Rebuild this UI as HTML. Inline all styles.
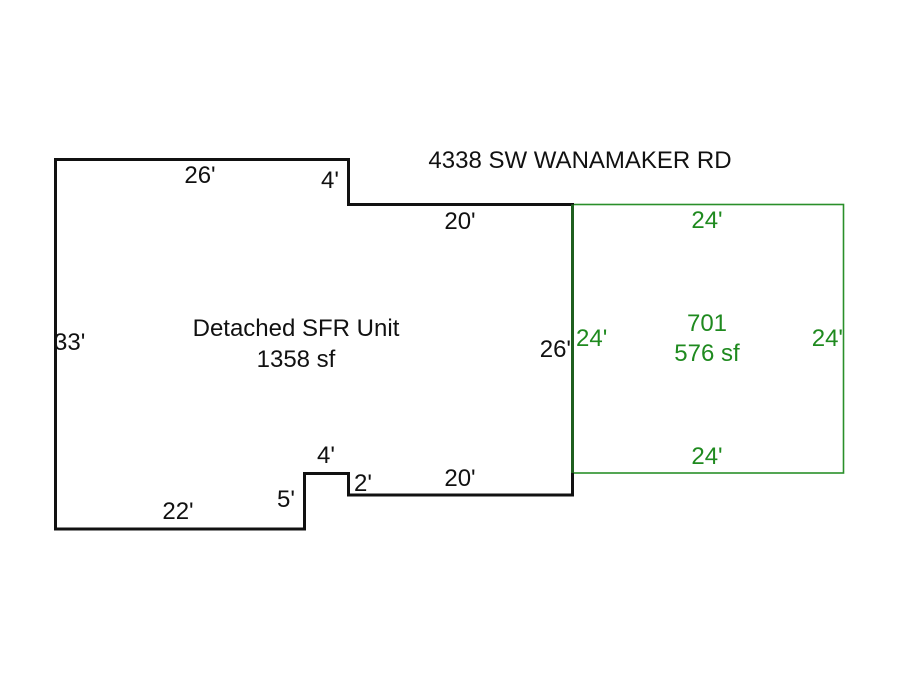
<!DOCTYPE html>
<html><head><meta charset="utf-8"><style>
html,body{margin:0;padding:0;background:#fff;}
svg{display:block;}
text{font-family:"Liberation Sans",Arial,sans-serif;font-size:24px;}
.k{fill:#111;}
.g{fill:#1f8a1f;}
</style></head><body>
<svg width="900" height="675" viewBox="0 0 900 675" xmlns="http://www.w3.org/2000/svg">
<rect width="900" height="675" fill="#fff"/>
<rect x="572.5" y="204.5" width="271" height="268.5" fill="none" stroke="#2a8f2a" stroke-width="1.6"/>
<polygon points="55.5,159.5 348.5,159.5 348.5,204.5 572.5,204.5 572.5,495 348.5,495 348.5,473.5 304.5,473.5 304.5,529 55.5,529" fill="none" stroke="#111" stroke-width="3"/>
<line x1="572.5" y1="204.5" x2="572.5" y2="473" stroke="#1f5f1f" stroke-width="3"/>
<text class="k" x="580" y="168" text-anchor="middle">4338 SW WANAMAKER RD</text>
<text class="k" x="200" y="183" text-anchor="middle">26'</text>
<text class="k" x="330" y="188" text-anchor="middle">4'</text>
<text class="k" x="460" y="229" text-anchor="middle">20'</text>
<text class="k" x="296" y="336" text-anchor="middle">Detached SFR Unit</text>
<text class="k" x="296" y="367" text-anchor="middle">1358 sf</text>
<text class="k" x="54" y="350">33'</text>
<text class="k" x="571" y="357" text-anchor="end">26'</text>
<text class="k" x="326" y="463" text-anchor="middle">4'</text>
<text class="k" x="354" y="491">2'</text>
<text class="k" x="460" y="486" text-anchor="middle">20'</text>
<text class="k" x="286" y="507" text-anchor="middle">5'</text>
<text class="k" x="178" y="519" text-anchor="middle">22'</text>
<text class="g" x="707" y="228" text-anchor="middle">24'</text>
<text class="g" x="576" y="346">24'</text>
<text class="g" x="843" y="346" text-anchor="end">24'</text>
<text class="g" x="707" y="331" text-anchor="middle">701</text>
<text class="g" x="707" y="361" text-anchor="middle">576 sf</text>
<text class="g" x="707" y="464" text-anchor="middle">24'</text>
</svg>
</body></html>
